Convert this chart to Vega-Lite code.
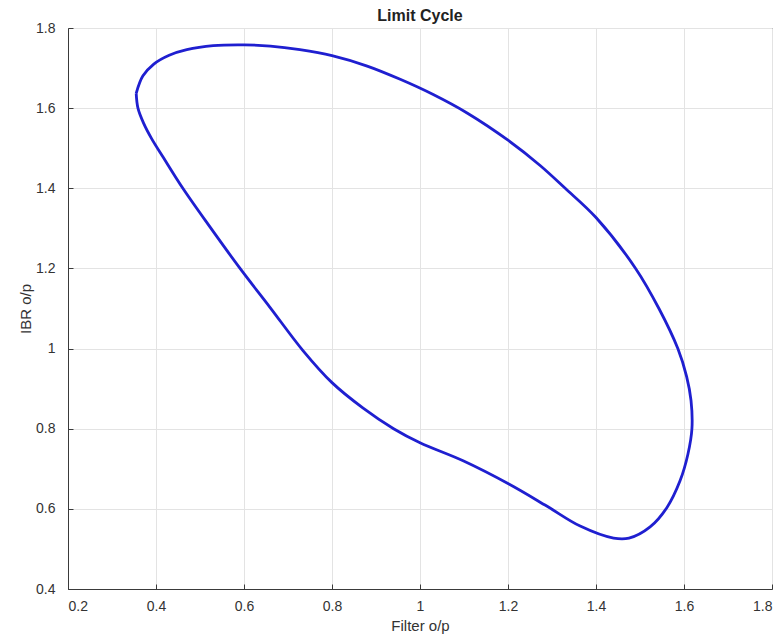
{
  "$schema": "https://vega.github.io/schema/vega-lite/v6.json",
  "autosize": {"type": "none"},
  "padding": {"left": 68, "top": 28, "right": 2, "bottom": 51},
  "width": 704,
  "height": 561,
  "background": "white",
  "title": {
    "text": "Limit Cycle",
    "font": "Liberation Sans",
    "fontSize": 16,
    "fontWeight": "bold",
    "color": "#222222",
    "offset": -3
  },
  "config": {
    "view": {"stroke": "#3a3a3a", "strokeWidth": 1},
    "axis": {
      "labelFont": "Liberation Sans",
      "titleFont": "Liberation Sans",
      "labelFontSize": 14,
      "titleFontSize": 15,
      "titleFontWeight": "normal",
      "labelColor": "#333333",
      "titleColor": "#333333",
      "gridColor": "#e3e3e3",
      "gridWidth": 1,
      "domainColor": "#3a3a3a",
      "tickColor": "#3a3a3a",
      "tickSize": -5
    }
  },
  "data": {
    "values": [
      {"i": 1, "x": 0.355, "y": 1.637},
      {"i": 2, "x": 0.37, "y": 1.68},
      {"i": 3, "x": 0.395, "y": 1.71},
      {"i": 4, "x": 0.43, "y": 1.732},
      {"i": 5, "x": 0.47, "y": 1.746},
      {"i": 6, "x": 0.53, "y": 1.756},
      {"i": 7, "x": 0.6, "y": 1.758},
      {"i": 8, "x": 0.66, "y": 1.755},
      {"i": 9, "x": 0.727, "y": 1.746},
      {"i": 10, "x": 0.8, "y": 1.731},
      {"i": 11, "x": 0.88, "y": 1.705},
      {"i": 12, "x": 0.955, "y": 1.672},
      {"i": 13, "x": 1.03, "y": 1.634},
      {"i": 14, "x": 1.107, "y": 1.588},
      {"i": 15, "x": 1.2, "y": 1.52},
      {"i": 16, "x": 1.273, "y": 1.457},
      {"i": 17, "x": 1.33, "y": 1.4},
      {"i": 18, "x": 1.4, "y": 1.327},
      {"i": 19, "x": 1.49, "y": 1.2},
      {"i": 20, "x": 1.543, "y": 1.1},
      {"i": 21, "x": 1.586, "y": 1.0},
      {"i": 22, "x": 1.606, "y": 0.93},
      {"i": 23, "x": 1.616, "y": 0.87},
      {"i": 24, "x": 1.618, "y": 0.8},
      {"i": 25, "x": 1.609, "y": 0.737},
      {"i": 26, "x": 1.591, "y": 0.67},
      {"i": 27, "x": 1.561, "y": 0.603},
      {"i": 28, "x": 1.523, "y": 0.555},
      {"i": 29, "x": 1.475, "y": 0.527},
      {"i": 30, "x": 1.44, "y": 0.527},
      {"i": 31, "x": 1.364, "y": 0.557},
      {"i": 32, "x": 1.288, "y": 0.607},
      {"i": 33, "x": 1.202, "y": 0.662},
      {"i": 34, "x": 1.098, "y": 0.72},
      {"i": 35, "x": 1.0, "y": 0.765},
      {"i": 36, "x": 0.94, "y": 0.8},
      {"i": 37, "x": 0.87, "y": 0.852},
      {"i": 38, "x": 0.8, "y": 0.915},
      {"i": 39, "x": 0.734, "y": 0.995},
      {"i": 40, "x": 0.659, "y": 1.103},
      {"i": 41, "x": 0.591, "y": 1.2},
      {"i": 42, "x": 0.523, "y": 1.303},
      {"i": 43, "x": 0.461, "y": 1.4},
      {"i": 44, "x": 0.416, "y": 1.478},
      {"i": 45, "x": 0.39, "y": 1.524},
      {"i": 46, "x": 0.372, "y": 1.562},
      {"i": 47, "x": 0.359, "y": 1.6},
      {"i": 48, "x": 0.355, "y": 1.637}
    ]
  },
  "mark": {
    "type": "line",
    "interpolate": "catmull-rom",
    "color": "#1f1fd0",
    "strokeWidth": 2.8,
    "clip": true
  },
  "encoding": {
    "order": {"field": "i", "type": "quantitative"},
    "x": {
      "field": "x",
      "type": "quantitative",
      "scale": {"domain": [0.2, 1.8], "nice": false, "zero": false},
      "axis": {"values": [0.2, 0.4, 0.6, 0.8, 1, 1.2, 1.4, 1.6, 1.8], "title": "Filter o/p", "labelPadding": 15, "titlePadding": 5, "format": "~g"}
    },
    "y": {
      "field": "y",
      "type": "quantitative",
      "scale": {"domain": [0.4, 1.8], "nice": false, "zero": false},
      "axis": {"values": [0.4, 0.6, 0.8, 1, 1.2, 1.4, 1.6, 1.8], "title": "IBR o/p", "labelPadding": 18, "titlePadding": 2, "format": "~g"}
    }
  }
}
